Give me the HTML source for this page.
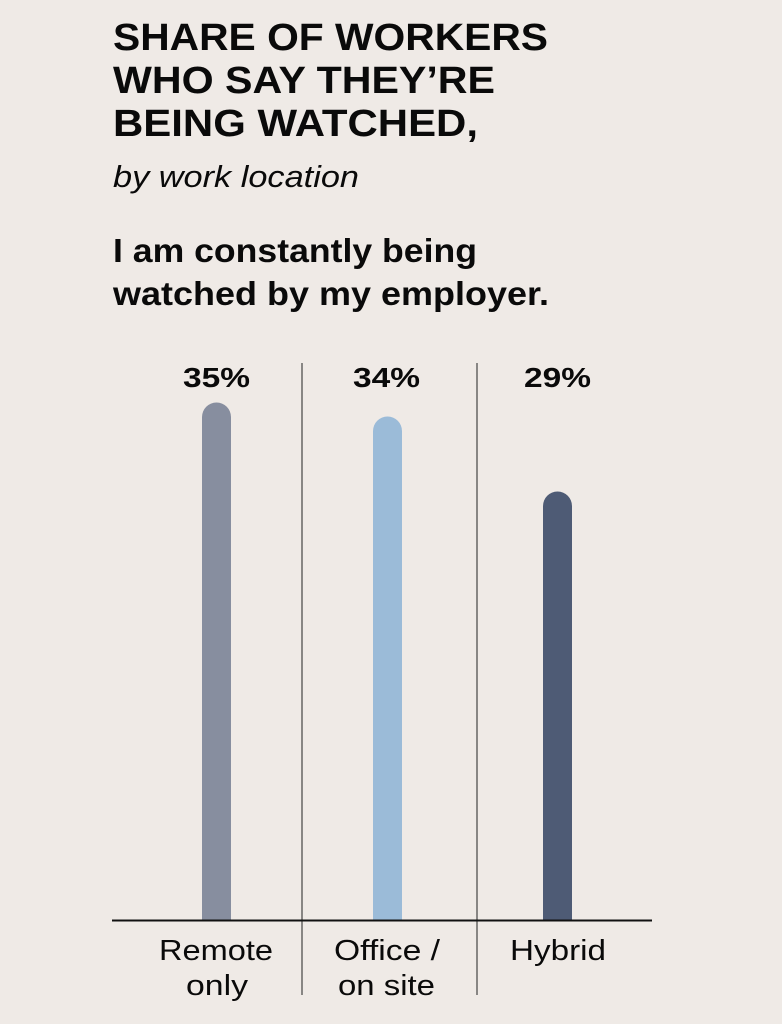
<!DOCTYPE html>
<html><head><style>
body{margin:0;width:782px;height:1024px;background:#efeae6;overflow:hidden;font-family:"Liberation Sans",sans-serif;color:#0a0a0a}
</style></head><body>
<svg width="782" height="1024" style="position:absolute;left:0;top:0">
<g font-family="Liberation Sans, sans-serif" fill="#0a0a0a" lengthAdjust="spacingAndGlyphs">
<text x="113" y="50" font-size="38" font-weight="bold" textLength="435" lengthAdjust="spacingAndGlyphs">SHARE OF WORKERS</text>
<text x="113" y="93" font-size="38" font-weight="bold" textLength="382" lengthAdjust="spacingAndGlyphs">WHO SAY THEY’RE</text>
<text x="113" y="136" font-size="38" font-weight="bold" textLength="365" lengthAdjust="spacingAndGlyphs">BEING WATCHED,</text>
<text x="113" y="187" font-size="31" font-style="italic" textLength="246" lengthAdjust="spacingAndGlyphs">by work location</text>
<text x="113" y="262" font-size="33" font-weight="bold" textLength="364" lengthAdjust="spacingAndGlyphs">I am constantly being</text>
<text x="113" y="305" font-size="33" font-weight="bold" textLength="436" lengthAdjust="spacingAndGlyphs">watched by my employer.</text>
<text x="183" y="387" font-size="28" font-weight="bold" textLength="67" lengthAdjust="spacingAndGlyphs">35%</text>
<text x="353" y="387" font-size="28" font-weight="bold" textLength="67" lengthAdjust="spacingAndGlyphs">34%</text>
<text x="524" y="387" font-size="28" font-weight="bold" textLength="67" lengthAdjust="spacingAndGlyphs">29%</text>
<g font-size="29">
<text x="159" y="960" textLength="114" lengthAdjust="spacingAndGlyphs">Remote</text>
<text x="186" y="995" textLength="62" lengthAdjust="spacingAndGlyphs">only</text>
<text x="334" y="960" textLength="106" lengthAdjust="spacingAndGlyphs">Office /</text>
<text x="338" y="995" textLength="97" lengthAdjust="spacingAndGlyphs">on site</text>
<text x="510" y="960" textLength="96" lengthAdjust="spacingAndGlyphs">Hybrid</text>
</g>
</g>
<path d="M202,920V417a14.5,14.5 0 0 1 29,0V920Z" fill="#878e9f"/>
<path d="M373,920V431a14.5,14.5 0 0 1 29,0V920Z" fill="#9bbbd8"/>
<path d="M543,920V506a14.5,14.5 0 0 1 29,0V920Z" fill="#4e5b75"/>
<line x1="302" y1="363" x2="302" y2="995" stroke="#222" stroke-width="1"/>
<line x1="477" y1="363" x2="477" y2="995" stroke="#222" stroke-width="1"/>
<line x1="112" y1="920.5" x2="652" y2="920.5" stroke="#111" stroke-width="2"/>
</svg>
</body></html>
